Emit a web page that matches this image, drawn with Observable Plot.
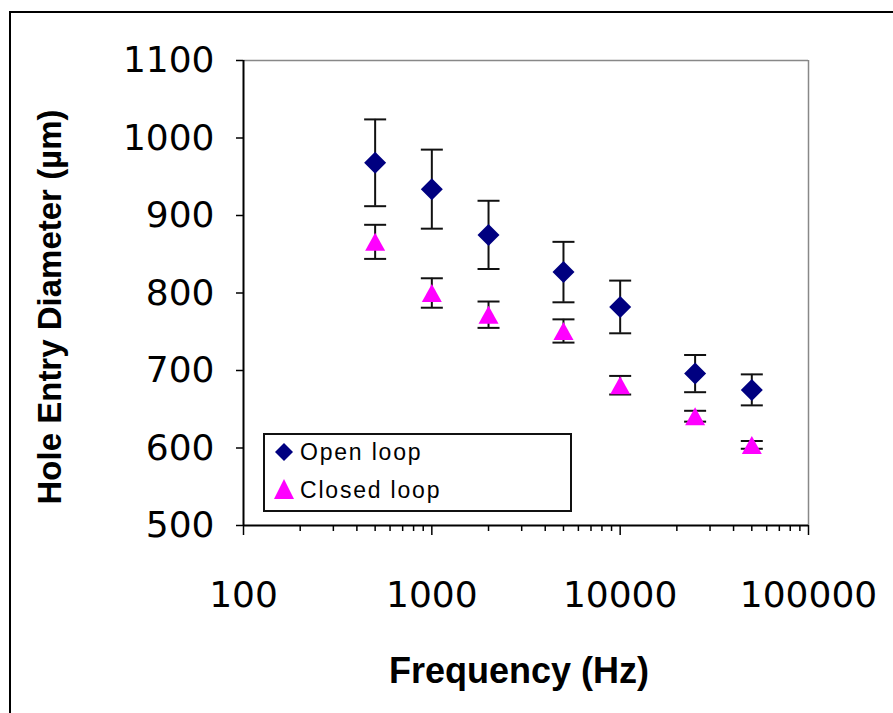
<!DOCTYPE html>
<html><head><meta charset="utf-8">
<script src="https://cdn.jsdelivr.net/npm/d3@7"></script>
<script src="https://cdn.jsdelivr.net/npm/@observablehq/plot@0.6"></script>
<style>
body{margin:0;background:#fff;}
#wrap{position:relative;width:893px;height:713px;overflow:hidden;background:#fff;}
#frame{position:absolute;left:9px;top:11px;width:1000px;height:1000px;border:2px solid #000;pointer-events:none;}
#legend{position:absolute;left:263px;top:433px;width:309px;height:79px;box-sizing:border-box;border:2px solid #111;background:#fff;font-family:Arial,"Liberation Sans",sans-serif;font-size:23px;color:#000;}
#legend .item{position:absolute;left:0;white-space:nowrap;}
#legend .lbl{position:absolute;left:35px;letter-spacing:1.8px;line-height:1;}
</style></head><body>
<div id="wrap"><div id="frame"></div></div>
<script>
const frequency = [500, 1000, 2000, 5000, 10000, 25000, 50000];
const openLoop = [968, 934, 875, 827, 782, 696, 675];
const openErr = [56, 51, 44, 39, 34, 24, 20];
const closedLoop = [866, 800, 772, 751, 681, 641, 604];
const closedErr = [22, 19, 17, 15, 12, 7, 5];
const yTicks = [500, 600, 700, 800, 900, 1000, 1100];
const xTicks = [100, 1000, 10000, 100000];
const seriesNames = ["Open loop", "Closed loop"];
const colors = ["#000080", "#ff00ff"];

const openRows = frequency.map((f, i) => ({f, v: openLoop[i], e: openErr[i]}));
const closedRows = frequency.map((f, i) => ({f, v: closedLoop[i], e: closedErr[i]}));
const allRows = openRows.concat(closedRows);
const minorTicks = [];
for (const p of [100, 1000, 10000]) for (let k = 2; k <= 9; k++) minorTicks.push(k * p);

const diamond = {draw(ctx){ const h = 11; ctx.moveTo(0,-h); ctx.lineTo(h,0); ctx.lineTo(0,h); ctx.lineTo(-h,0); ctx.closePath(); }};
const triangle = {draw(ctx){ const w = 10, h = 9; ctx.moveTo(0,-h); ctx.lineTo(w,h); ctx.lineTo(-w,h); ctx.closePath(); }};
const cap = {draw(ctx){ ctx.moveTo(-11,0); ctx.lineTo(11,0); }};

const font = "'DejaVu Sans', Arial, sans-serif";
const chart = Plot.plot({
  width: 893, height: 713,
  marginLeft: 243, marginRight: 85, marginTop: 60, marginBottom: 188,
  x: {type: "log", domain: [100, 100000]},
  y: {domain: [500, 1100]},
  style: {fontFamily: font, background: "transparent", color: "#000", overflow: "visible"},
  marks: [
    Plot.ruleY([1100], {stroke: "#888", strokeWidth: 1.5}),
    Plot.ruleX([100000], {stroke: "#888", strokeWidth: 1.5}),
    Plot.axisX(minorTicks, {tickSize: 6, tickFormat: () => "", stroke: "#000", strokeWidth: 1.5, label: null}),
    Plot.axisX(xTicks, {tickSize: 10, tickPadding: 46, tickFormat: d => String(d), fontSize: 36, fontFamily: font, stroke: "#000", strokeWidth: 1.5, label: null}),
    Plot.axisY(yTicks, {tickSize: 7, tickPadding: 22, tickFormat: d => String(d), fontSize: 36, fontFamily: font, stroke: "#000", strokeWidth: 1.5, label: null}),
    Plot.ruleY([500], {stroke: "#000", strokeWidth: 2}),
    Plot.ruleX([100], {stroke: "#000", strokeWidth: 2}),
    Plot.ruleX(allRows, {x: "f", y1: d => d.v - d.e, y2: d => d.v + d.e, stroke: "#111", strokeWidth: 2}),
    Plot.dot(allRows, {x: "f", y: d => d.v + d.e, symbol: cap, stroke: "#111", strokeWidth: 2, fill: "none"}),
    Plot.dot(allRows, {x: "f", y: d => d.v - d.e, symbol: cap, stroke: "#111", strokeWidth: 2, fill: "none"}),
    Plot.dot(openRows, {x: "f", y: "v", symbol: diamond, fill: colors[0], stroke: "none"}),
    Plot.dot(closedRows, {x: "f", y: "v", symbol: triangle, fill: colors[1], stroke: "none"}),
    Plot.text(["Hole Entry Diameter (µm)"], {frameAnchor: "left", textAnchor: "middle", lineAnchor: "middle", rotate: -90, dx: -193, dy: 14, fontSize: 33, fontWeight: "bold", fontFamily: "Arial, 'Liberation Sans', sans-serif", fill: "#000"}),
    Plot.text(["Frequency (Hz)"], {frameAnchor: "bottom", textAnchor: "middle", lineAnchor: "middle", dx: -7, dy: 146, fontSize: 36, fontWeight: "bold", fontFamily: "Arial, 'Liberation Sans', sans-serif", fill: "#000"})
  ]
});
chart.style.position = "absolute";
chart.style.left = "0px";
chart.style.top = "0px";
const wrap = document.getElementById("wrap");
wrap.appendChild(chart);

// legend
const legend = document.createElement("div");
legend.id = "legend";
const items = [
  {name: seriesNames[0], color: colors[0], path: "M9,0L18,9L9,18L0,9Z", top: 10, size: 18},
  {name: seriesNames[1], color: colors[1], path: "M10,0L20,20L0,20Z", top: 46, size: 20}
];
items.forEach((it, i) => {
  const d = document.createElement("div");
  d.className = "item";
  d.style.top = it.top + "px";
  d.innerHTML = `<svg width="22" height="22" style="position:absolute;left:${i===0?10:9}px;top:${i===0?-2:-2}px"><path d="${it.path}" fill="${it.color}"/></svg><span class="lbl" style="top:${i===0?-4:-2}px">${it.name}</span>`;
  legend.appendChild(d);
});
wrap.appendChild(legend);
</script>
</body></html>
